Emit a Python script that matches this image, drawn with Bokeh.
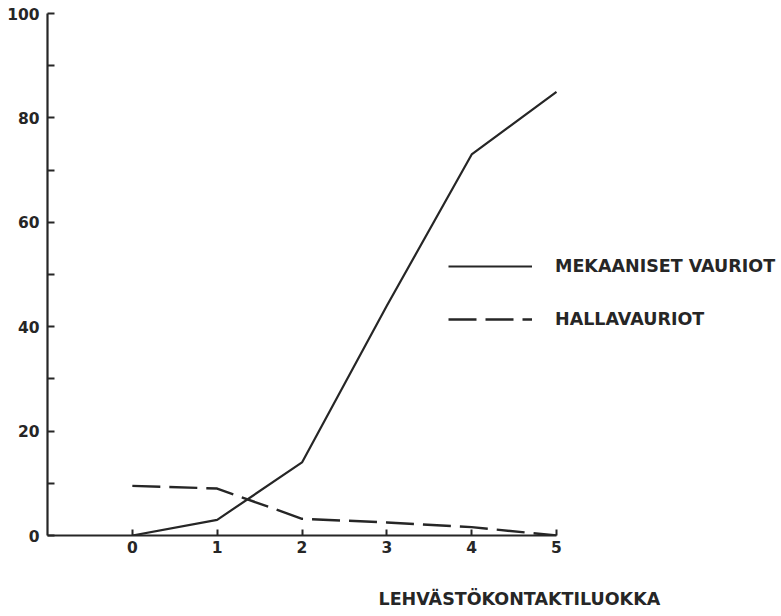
from bokeh.plotting import figure
from bokeh.models import Range1d, FixedTicker, Legend, LegendItem, Title, LinearAxis
from bokeh.embed import file_html
from bokeh.resources import INLINE

# data
classes = [0, 1, 2, 3, 4, 5]
mekaaniset = [0, 3, 14, 44, 73, 85]
halla = [9.5, 9, 3.2, 2.5, 1.6, 0]
y_ticks = [0, 20, 40, 60, 80, 100]
y_minor = [10, 30, 50, 70, 90]
label_mek = "MEKAANISET VAURIOT"
label_halla = "HALLAVAURIOT"
x_title = "LEHVÄSTÖKONTAKTILUOKKA"

INK = "#262626"
FONT = "DejaVu Sans"

p = figure(width=781, height=610, output_backend="svg", toolbar_location=None,
           x_range=Range1d(-1, -1 + 734 * 6 / 509), y_range=Range1d(0, 100),
           min_border_left=47, min_border_right=0, min_border_top=13, min_border_bottom=75)
p.outline_line_color = None
p.grid.visible = False
p.background_fill_color = "white"

r1 = p.line(classes, mekaaniset, line_color=INK, line_width=2.2)
r2 = p.line(classes, halla, line_color=INK, line_width=2.4, line_dash="28 9")

# axes
xa = p.xaxis[0]
xa.bounds = (-1, 5)
xa.ticker = FixedTicker(ticks=classes)
xa.axis_line_color = INK
xa.axis_line_width = 2.2
xa.major_tick_in = 6
xa.major_tick_out = 0
xa.major_tick_line_width = 2
xa.major_tick_line_color = INK
xa.minor_tick_line_color = None
xa.major_label_standoff = 5
xa.major_label_text_font = FONT
xa.major_label_text_font_style = "bold"
xa.major_label_text_font_size = "15.5px"
xa.major_label_text_color = INK

ya = p.yaxis[0]
ya.ticker = FixedTicker(ticks=y_ticks, minor_ticks=y_minor)
ya.axis_line_color = INK
ya.axis_line_width = 2.2
ya.major_tick_in = 7
ya.major_tick_out = 0
ya.minor_tick_in = 7
ya.minor_tick_out = 0
ya.major_tick_line_width = 2
ya.minor_tick_line_width = 2
ya.major_tick_line_color = INK
ya.minor_tick_line_color = INK
ya.major_label_standoff = 8
ya.major_label_text_font = FONT
ya.major_label_text_font_style = "bold"
ya.major_label_text_font_size = "15.5px"
ya.major_label_text_color = INK

# invisible spacer between the tick labels and the axis title
spacer = LinearAxis(ticker=FixedTicker(ticks=[7.2]), axis_line_color=None,
                    major_tick_line_color="white", minor_tick_line_color=None,
                    major_tick_out=31, major_tick_in=0, minor_tick_out=0,
                    major_label_standoff=0, major_label_text_font_size="0px",
                    major_label_text_color=None)
p.add_layout(spacer, "below")

# x-axis title, placed under the right part of the chart
t = Title(text=x_title, align="left", offset=331, standoff=0, vertical_align="bottom",
          text_font=FONT, text_font_style="bold", text_font_size="17.5px", text_color=INK)
p.add_layout(t, "below")

legend = Legend(items=[LegendItem(label=label_mek, renderers=[r1]),
                       LegendItem(label=label_halla, renderers=[r2])],
                location=(401, 206), orientation="vertical",
                glyph_width=84, glyph_height=20, label_height=20,
                label_standoff=23, spacing=33, padding=0, margin=0,
                border_line_color=None, background_fill_alpha=0,
                label_text_font=FONT, label_text_font_style="bold",
                label_text_font_size="17.5px", label_text_color=INK)
p.add_layout(legend)

open("out.html", "w").write(file_html(p, INLINE))
